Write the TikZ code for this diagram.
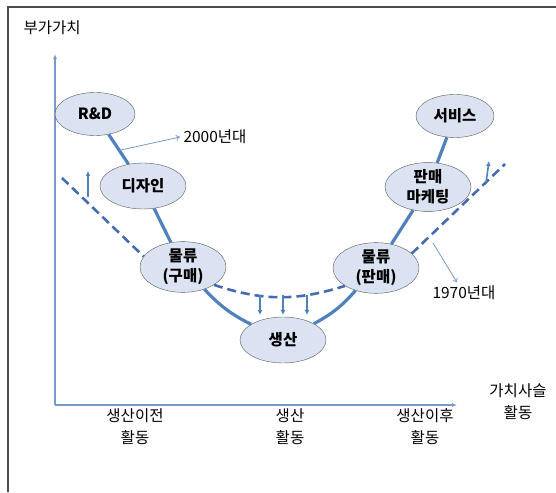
\documentclass[tikz,border=0pt]{standalone}
\usepackage{fontspec}
\setmainfont{Noto Sans CJK KR}
\usetikzlibrary{shapes.geometric,arrows.meta,positioning}
\definecolor{linkblue}{rgb}{0.31, 0.51, 0.74}
\definecolor{dashblue}{rgb}{0.27, 0.42, 0.70}
\definecolor{axisblue}{rgb}{0.47, 0.60, 0.80}
\definecolor{stagefill}{rgb}{0.86, 0.89, 0.95}
\tikzset{
	stage/.style={ellipse,draw=gray!70!black,fill=stagefill,minimum width=86pt,minimum height=46pt,inner sep=0pt,align=center,font=\fontsize{15.5}{20}\selectfont\bfseries},
	link/.style={linkblue,line width=3.2pt},
	trend/.style={dashblue,line width=2.6pt,dash pattern=on 9pt off 5pt},
	move/.style={linkblue,line width=1.6pt,-{Latex[length=5pt,width=5pt]}},
	note/.style={axisblue,line width=0.8pt,-{To[length=4pt,width=6pt]}},
	valueaxis/.style={axisblue,line width=1.3pt,-{Latex[length=5pt,width=4pt]}},
	pageframe/.style={gray!60!black,line width=1.2pt},
	lbl/.style={font=\fontsize{15.5}{22}\selectfont,align=center}
}

\begin{document}
\begin{tikzpicture}[x=1pt,y=1pt]
		\useasboundingbox (0,0) rectangle (556,492);
		\draw[pageframe] (556,485) -- (8,485) -- (8,0);
		
		% axes
		\coordinate (origin) at (55,87);
		\coordinate (ytip) at (55,438);
		\coordinate (xtip) at (457,87);
		\draw[valueaxis] (origin) -- (ytip);
		\draw[valueaxis] (origin) -- (xtip);
		\node[lbl,anchor=west] (ylabel) at (20,464) {부가가치};
		\node[lbl] (xlabel) at (518,90) {가치사슬\\활동};
		
		\node[lbl] (preAct) at (135,65) {생산이전\\활동};
		\node[lbl] (prodAct) at (290,65) {생산\\활동};
		\node[lbl] (postAct) at (425,65) {생산이후\\활동};
		
		% stages of the chain
		\node[stage,minimum width=80pt,minimum height=43pt] (rnd) at (95,378) {R\&D};
		\node[stage,minimum width=78pt,minimum height=43pt] (service) at (455,376) {서비스};
		\node[stage] (design) at (143,306) {디자인};
		\node[stage] (marketing) at (428,305) {판매\\마케팅};
		\node[stage] (buyLog) at (183,225) {물류\\(구매)};
		\node[stage] (sellLog) at (376,224) {물류\\(판매)};
		\node[stage] (prod) at (283,152) {생산};
		
		% 2000s curve
		\draw[link] (rnd) -- (design) -- (buyLog);
		\draw[link] (buyLog) to[bend right=10] (prod);
		\draw[link] (prod) to[bend right=10] (sellLog);
		\draw[link] (sellLog) -- (marketing) -- (service);
		
		% 1970s curve
		\coordinate (oldLeft) at (62,314);
		\coordinate (oldRight) at (505,328);
		\draw[trend] (oldLeft) -- (buyLog.165);
		\draw[trend] (buyLog.-30) to[bend right=18] (sellLog.-150);
		\draw[trend] (sellLog.22) -- (oldRight);
		
		% shifts between the two
		\foreach \x/\n in {260/a,283/b,307/c}{
			\coordinate (dropTop\n) at (\x,197);
			\coordinate (dropEnd\n) at (\x,177);
			\draw[move] (dropTop\n) -- (dropEnd\n);
		}
		\coordinate (riseLeftBase) at (88,295);
		\coordinate (riseLeftTip) at (88,321);
		\draw[move] (riseLeftBase) -- (riseLeftTip);
		\coordinate (riseRightBase) at (486,309);
		\coordinate (riseRightTip) at (489,331);
		\draw[move] (riseRightBase) -- (riseRightTip);
		
		% era labels
		\node[lbl,anchor=west] (newEra) at (180,355) {2000년대};
		\coordinate (newEraFrom) at (121,342);
		\draw[note] (newEraFrom) -- (newEra.west);
		\node[lbl] (oldEra) at (464,199) {1970년대};
		\coordinate (oldEraFrom) at (433,249);
		\draw[note] (oldEraFrom) -- ([xshift=-7pt]oldEra.north);
		
\end{tikzpicture}
\end{document}
